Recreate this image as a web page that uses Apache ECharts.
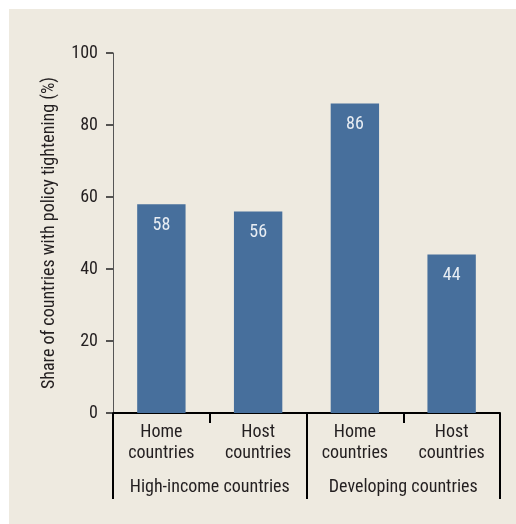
<!DOCTYPE html>
<html>
<head>
<meta charset="utf-8">
<script src="https://cdn.jsdelivr.net/npm/echarts@6/dist/echarts.min.js"></script>
<style>
  html, body { margin: 0; padding: 0; background: #ffffff; }
  .panel { position: absolute; left: 9px; top: 9px; width: 507px; height: 515px; background: #eeeae0; }
  #chart { position: absolute; left: 0; top: 0; width: 516px; height: 524px; }
</style>
</head>
<body>
<div class="panel"></div>
<div id="chart"></div>
<script>
  const categories = ['Home\ncountries', 'Host\ncountries', 'Home\ncountries', 'Host\ncountries'];
  const groups = ['High-income countries', 'Developing countries'];
  const values = [58, 56, 86, 44];
  const yTicks = {min: 0, max: 100, interval: 20};

  const font = '"Roboto Condensed", "Liberation Sans Narrow", sans-serif';
  const chart = echarts.init(document.getElementById('chart'));
  chart.setOption({
    backgroundColor: 'transparent',
    animation: false,
    textStyle: {fontFamily: font},
    grid: {left: 113, right: 16, top: 53, bottom: 111},
    xAxis: [
      {
        type: 'category',
        data: categories,
        axisLine: {show: true, lineStyle: {color: '#000', width: 2}},
        axisTick: {show: true, length: 10, lineStyle: {color: '#000', width: 2}},
        axisLabel: {interval: 0, color: '#231f20', fontSize: 18, lineHeight: 21, margin: 9, fontFamily: font}
      },
      {
        // second row: group labels and the long separators
        type: 'category',
        data: groups,
        position: 'bottom',
        axisLine: {show: false},
        axisTick: {show: true, length: 86, lineStyle: {color: '#000', width: 2}},
        axisLabel: {interval: 0, color: '#231f20', fontSize: 18, margin: 65, fontFamily: font}
      }
    ],
    yAxis: {
      type: 'value',
      min: yTicks.min,
      max: yTicks.max,
      interval: yTicks.interval,
      name: 'Share of countries with policy tightening (%)',
      nameLocation: 'middle',
      nameGap: 55,
      nameTextStyle: {color: '#231f20', fontSize: 18, fontFamily: font},
      axisLine: {show: true, lineStyle: {color: '#555', width: 1}},
      axisTick: {show: true, length: 7, lineStyle: {color: '#222', width: 1.5}},
      axisLabel: {color: '#231f20', fontSize: 18, margin: 15, fontFamily: font},
      splitLine: {show: false}
    },
    series: [
      {
        type: 'bar',
        xAxisIndex: 0,
        data: values,
        barWidth: '50%',
        itemStyle: {color: '#476f9c'},
        label: {
          show: true,
          position: 'insideTop',
          distance: 12,
          color: '#e8edf3',
          fontSize: 18,
          fontFamily: font
        }
      }
    ]
  });
</script>
</body>
</html>
